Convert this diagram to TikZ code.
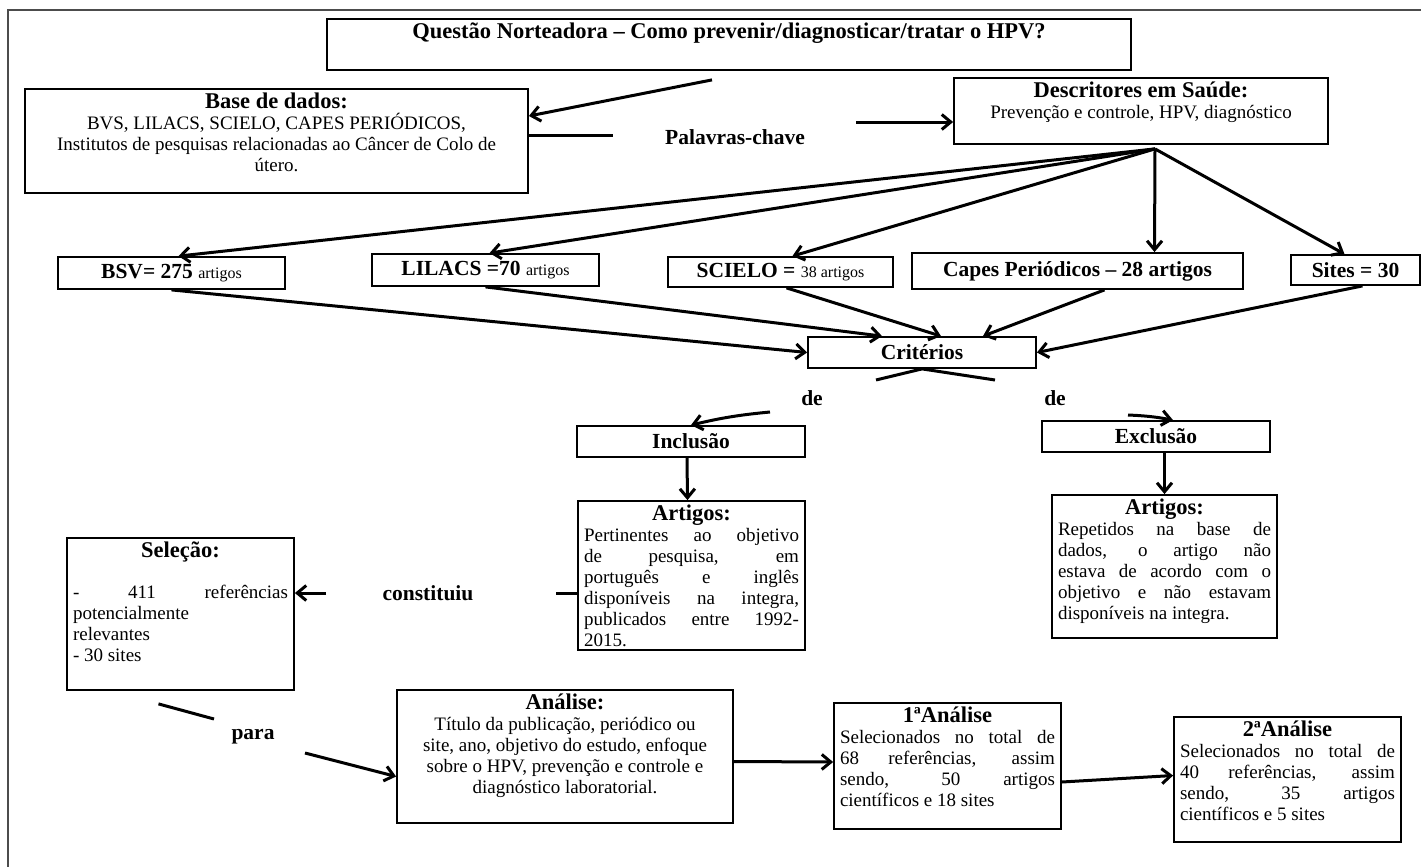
\documentclass[tikz,border=0pt]{standalone}
\usepackage{fontspec}
\setmainfont{Liberation Serif}
\usetikzlibrary{arrows.meta,calc}
\newcommand{\bodysize}{\fontsize{19}{21}\selectfont}
\newcommand{\headsize}{\fontsize{22.5}{24}\selectfont\bfseries}
\newcommand{\smallsize}{\fontsize{16}{18}\selectfont\mdseries}
\newcommand{\boxtxt}[3]{\parbox[c][#2][t]{#1}{#3}}
\hbadness=10000
\tikzset{
    >={Straight Barb[length=9pt,width=15pt]},
    x=1pt, y=-1pt,
    tbox/.style={draw, line width=1.8pt, inner xsep=6pt, inner ysep=4pt, font=\bodysize},
    rbox/.style={draw, line width=1.8pt, inner sep=0pt, font=\fontsize{21.5}{24}\selectfont\bfseries},
    conn/.style={line width=3pt},
    arr/.style={conn, ->},
    lbl/.style={font=\fontsize{21.5}{24}\selectfont\bfseries, inner sep=0pt},
}

\begin{document}
\begin{tikzpicture}
    \useasboundingbox (0,0) rectangle (1421,867);
    \draw[line width=1.5pt, black!70] (8,867) -- (8,10) -- (1421,10);

    % top part
    \node[tbox] (quest) at (729,44.5) {\boxtxt{792pt}{43pt}{\centering\headsize
        Questão Norteadora – Como prevenir/diagnosticar/tratar o HPV?}};
    \node[tbox] (base) at (276.5,141) {\boxtxt{491pt}{96pt}{\centering
        {\headsize Base de dados:}\\
        BVS, LILACS, SCIELO, CAPES PERIÓDICOS,\\
        Institutos de pesquisas relacionadas ao Câncer de Colo de\\
        útero.\par}};
    \node[tbox] (desc) at (1141,111) {\boxtxt{362pt}{58pt}{\centering
        {\headsize Descritores em Saúde:}\\
        Prevenção e controle, HPV, diagnóstico\par}};
    \node[lbl] (palavras) at (735,137) {Palavras-chave};

    \draw[arr] ([xshift=-17pt,yshift=-9pt]quest.south) -- ([yshift=25pt]base.east);
    \coordinate (pk1) at (613,135);
    \coordinate (pk2) at (856,122);
    \draw[conn] (base.east |- pk1) -- (pk1);
    \draw[arr] (pk2) -- (desc.west |- pk2);

    % bases
    \node[rbox, minimum width=227pt, minimum height=32pt] (bsv) at (171.5,273)
        {BSV= 275 {\smallsize artigos}};
    \node[rbox, minimum width=227pt, minimum height=32pt] (lilacs) at (485.5,270)
        {LILACS =70 {\smallsize artigos}};
    \node[rbox, minimum width=225pt, minimum height=30pt] (scielo) at (780.5,272)
        {SCIELO = {\smallsize 38 artigos}};
    \node[rbox, minimum width=331pt, minimum height=36pt] (capes) at (1077.5,271)
        {Capes Periódicos – 28 artigos};
    \node[rbox, minimum width=129pt, minimum height=30pt] (sites) at (1355.5,270)
        {Sites = 30};

    \coordinate (fan) at ([xshift=14pt,yshift=-4pt]desc.south);
    \foreach \n/\dx in {bsv/7, lilacs/4, scielo/12, capes/77, sites/-11}
        \draw[arr] (fan) -- ([xshift=\dx pt]\n.north);

    % criterios
    \node[rbox, minimum width=228pt, minimum height=31pt] (crit) at (922,352.5) {Critérios};
    \draw[arr] (bsv.south) -- (crit.west);
    \draw[arr] (lilacs.south) -- ([xshift=-40pt]crit.north);
    \draw[arr] ([xshift=6pt]scielo.south) -- ([xshift=19pt]crit.north);
    \draw[arr] ([xshift=27pt]capes.south) -- ([xshift=61pt]crit.north);
    \draw[arr] ([xshift=7pt]sites.south) -- (crit.east);

    \coordinate (dl) at (876,380);
    \coordinate (dr) at (995,380);
    \draw[conn] (dl) -- (crit.south) -- (dr);
    \node[lbl] (dela) at (812,398) {de};
    \node[lbl] (delb) at (1055,398) {de};

    \node[rbox, minimum width=228pt, minimum height=31pt] (incl) at (691,441.5) {Inclusão};
    \node[rbox, minimum width=228pt, minimum height=31pt] (excl) at (1156,436.5) {Exclusão};
    \coordinate (il) at (770,412);
    \coordinate (ir) at (1128,415);
    \draw[arr] (il) to[bend right=4] (incl.north);
    \draw[arr] (ir) to[bend left=4] ([xshift=17pt]excl.north);

    \node[tbox] (artl) at (691.5,575.5) {\boxtxt{215pt}{141pt}{%
        {\centering{\headsize Artigos:}\par}
        Pertinentes ao objetivo\linebreak de pesquisa, em\linebreak
        português e inglês\linebreak disponíveis na integra,\linebreak
        publicados entre 1992-\linebreak 2015.}};
    \node[tbox] (artr) at (1164.5,566.5) {\boxtxt{213pt}{135pt}{%
        {\centering{\headsize Artigos:}\par}
        Repetidos na base de\linebreak dados, o artigo não\linebreak
        estava de acordo com o\linebreak objetivo e não estavam\linebreak
        disponíveis na integra.}};
    \draw[arr] ([xshift=-4pt]incl.south) -- ([xshift=-4pt]artl.north);
    \draw[arr] (excl.south -| artr.north) -- (artr.north);

    % selecao
    \node[tbox] (sel) at (180.5,614) {\boxtxt{215pt}{144pt}{%
        {\centering{\headsize Seleção:}\par}\vspace{20pt}
        - 411 referências\linebreak potencialmente\linebreak relevantes\par
        - 30 sites}};
    \node[lbl] (const) at (428,593) {constituiu};
    \coordinate (c1) at (326,593);
    \coordinate (c2) at (556,593);
    \draw[arr] (c1) -- (sel.east |- c1);
    \draw[conn] (c2) -- (artl.west |- c2);

    % analises
    \node[tbox] (anal) at (565,756.5) {\boxtxt{324pt}{125pt}{\centering
        {\headsize Análise:}\\
        Título da publicação, periódico ou\\
        site, ano, objetivo do estudo, enfoque\\
        sobre o HPV, prevenção e controle e\\
        diagnóstico laboratorial.\par}};
    \node[tbox] (an1) at (947.5,766) {\boxtxt{215pt}{118pt}{%
        {\centering{\headsize 1ªAnálise}\par}
        Selecionados no total de\linebreak 68 referências, assim\linebreak
        sendo, 50 artigos\linebreak científicos e 18 sites}};
    \node[tbox] (an2) at (1287.5,779.5) {\boxtxt{215pt}{117pt}{%
        {\centering{\headsize 2ªAnálise}\par}
        Selecionados no total de\linebreak 40 referências, assim\linebreak
        sendo, 35 artigos\linebreak científicos e 5 sites}};

    \node[lbl] (para) at (253,737) {para};
    \coordinate (p2) at (214,719);
    \coordinate (p3) at (305,753);
    \draw[conn] ([xshift=-22pt,yshift=-13pt]sel.south) -- (p2);
    \draw[arr] (p3) -- ([yshift=-20pt]anal.west);
    \draw[arr] ([yshift=-5pt]anal.east) -- ([yshift=4pt]an1.west);
    \draw[arr] ([yshift=-16pt]an1.east) -- ([yshift=4pt]an2.west);
\end{tikzpicture}
\end{document}
